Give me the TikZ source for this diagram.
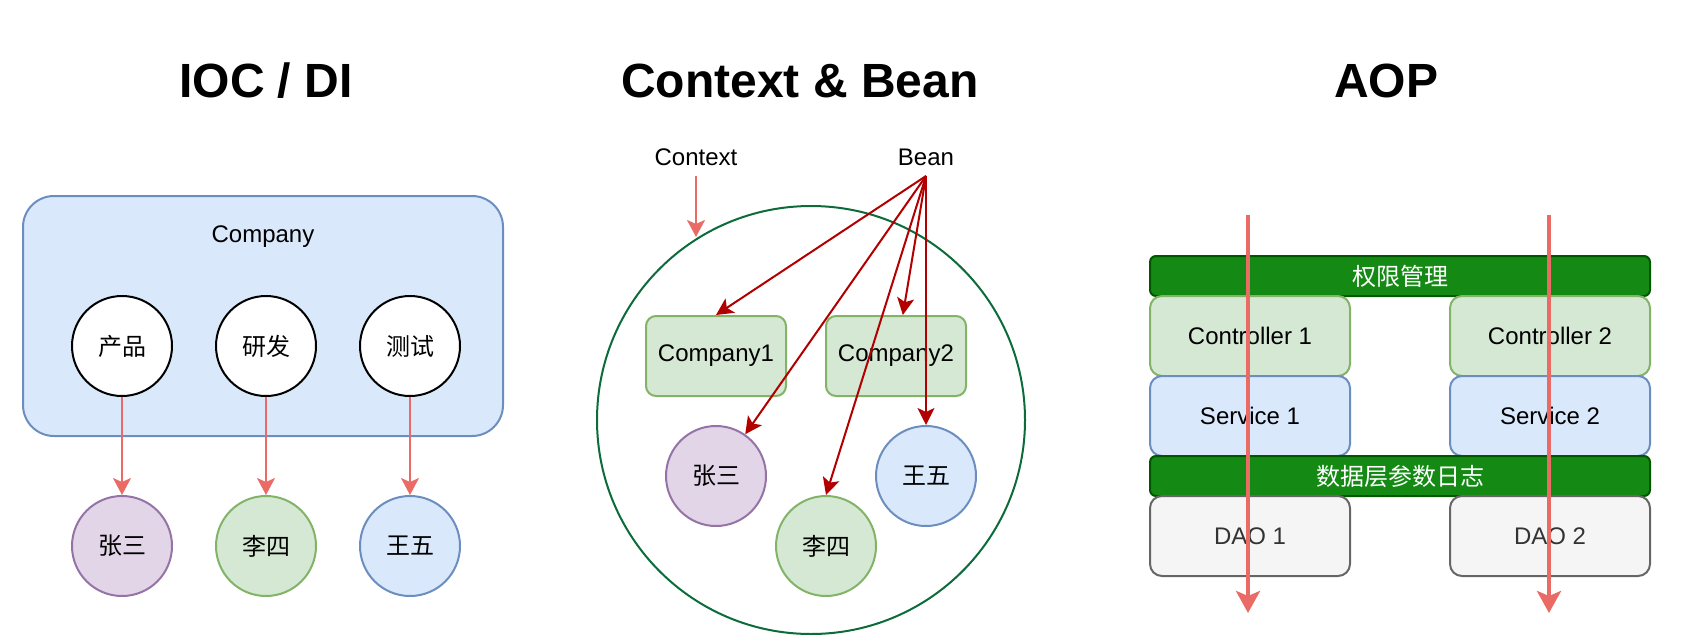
\documentclass[tikz,border=0pt]{standalone}
\usepackage{fontspec}
\setmainfont{Liberation Sans}
\newfontfamily\cjk{Noto Sans CJK SC}
\usetikzlibrary{arrows.meta}

\definecolor{bluefill}{HTML}{DAE8FC}
\definecolor{bluedraw}{HTML}{6C8EBF}
\definecolor{greenfill}{HTML}{D5E8D4}
\definecolor{greendraw}{HTML}{82B366}
\definecolor{purplefill}{HTML}{E1D5E7}
\definecolor{purpledraw}{HTML}{9673A6}
\definecolor{grayfill}{HTML}{F5F5F5}
\definecolor{graydraw}{HTML}{666666}
\definecolor{graytext}{HTML}{333333}
\definecolor{barfill}{HTML}{148A14}
\definecolor{bardraw}{HTML}{005700}
\definecolor{softred}{HTML}{EA6B66}
\definecolor{darkred}{HTML}{B20000}
\definecolor{ringgreen}{HTML}{0B6B3A}

\newcommand\titlefont{\fontsize{48}{56}\selectfont\bfseries}
\newcommand\midfont{\fontsize{24}{29}\selectfont}

\tikzset{
  title/.style={anchor=base, inner sep=0pt, font=\titlefont},
  txt/.style={inner sep=0pt, font=\midfont},
  ball/.style={circle, draw=black, fill=white, line width=2pt,
    minimum size=100pt, inner sep=0pt, font=\midfont\cjk},
  purpleball/.style={ball, fill=purplefill, draw=purpledraw},
  greenball/.style={ball, fill=greenfill, draw=greendraw},
  blueball/.style={ball, fill=bluefill, draw=bluedraw},
  card/.style={rectangle, rounded corners=10pt, line width=2pt,
    minimum width=140pt, minimum height=80pt, inner sep=0pt, font=\midfont},
  block/.style={card, rounded corners=12pt, minimum width=200pt},
  layer/.style={rectangle, rounded corners=6pt, line width=2pt, fill=barfill,
    draw=bardraw, text=white, minimum width=500pt, minimum height=40pt,
    inner sep=0pt, font=\midfont\cjk},
  soft/.style={draw=softred, line width=2pt,
    -{Stealth[length=17pt, width=18pt, inset=4pt]}},
  hard/.style={draw=darkred, line width=2pt,
    -{Stealth[length=17pt, width=17pt, inset=4pt]}},
  flow/.style={draw=softred, line width=4pt,
    -{Stealth[length=22pt, width=24pt, inset=5pt]}}
}

\begin{document}
\begin{tikzpicture}[x=1pt, y=-1pt]
\useasboundingbox (0,0) rectangle (1704,634);

% titles
\node[title] (ioctitle) at (266,97) {IOC / DI};
\node[title] (beantitle) at (800,97) {Context \& Bean};
\node[title] (aoptitle) at (1386,97) {AOP};

% IOC / DI
\node[rectangle, rounded corners=31pt, line width=2pt, fill=bluefill,
  draw=bluedraw, minimum width=480pt, minimum height=240pt] (company) at (263,316) {};
\node[txt] (companyname) at (263,237) {Company};
\node[ball] (chanpin) at (122,346) {产品};
\node[ball] (yanfa) at (266,346) {研发};
\node[ball] (ceshi) at (410,346) {测试};
\node[purpleball] (zs1) at (122,546) {张三};
\node[greenball] (ls1) at (266,546) {李四};
\node[blueball] (ww1) at (410,546) {王五};
\draw[soft] (chanpin) -- (zs1);
\draw[soft] (yanfa) -- (ls1);
\draw[soft] (ceshi) -- (ww1);

% Context & Bean
\node[txt] (contextname) at (696,157) {Context};
\node[txt] (beanname) at (926,157) {Bean};
\coordinate (contextfoot) at (696,176);
\coordinate (contexttip) at (696,237);
\coordinate (beanfoot) at (926,176);
\node[circle, draw=ringgreen, line width=2pt, minimum size=428pt,
  inner sep=0pt] (context) at (811,420) {};
\node[card, fill=greenfill, draw=greendraw] (company1) at (716,356) {Company1};
\node[card, fill=greenfill, draw=greendraw] (company2) at (896,356) {Company2};
\node[purpleball] (zs2) at (716,476) {张三};
\node[greenball] (ls2) at (826,546) {李四};
\node[blueball] (ww2) at (926,476) {王五};
\draw[soft] (contextfoot) -- (contexttip);
\draw[hard] (beanfoot) -- (company1.north);
\draw[hard] (beanfoot) -- (company2);
\draw[hard] (beanfoot) -- (zs2);
\draw[hard] (beanfoot) -- (ls2.north);
\draw[hard] (beanfoot) -- (ww2.north);

% AOP
\node[layer] (auth) at (1400,276) {权限管理};
\node[block, fill=greenfill, draw=greendraw] (ctrl1) at (1250,336) {Controller 1};
\node[block, fill=greenfill, draw=greendraw] (ctrl2) at (1550,336) {Controller 2};
\node[block, fill=bluefill, draw=bluedraw] (svc1) at (1250,416) {Service 1};
\node[block, fill=bluefill, draw=bluedraw] (svc2) at (1550,416) {Service 2};
\node[layer] (datalog) at (1400,476) {数据层参数日志};
\node[block, fill=grayfill, draw=graydraw, text=graytext] (dao1) at (1250,536) {DAO 1};
\node[block, fill=grayfill, draw=graydraw, text=graytext] (dao2) at (1550,536) {DAO 2};
\coordinate (flowtop1) at (1248,215);
\coordinate (flowend1) at (1248,613);
\coordinate (flowtop2) at (1549,215);
\coordinate (flowend2) at (1549,613);
\draw[flow] (flowtop1) -- (flowend1);
\draw[flow] (flowtop2) -- (flowend2);
\end{tikzpicture}
\end{document}
